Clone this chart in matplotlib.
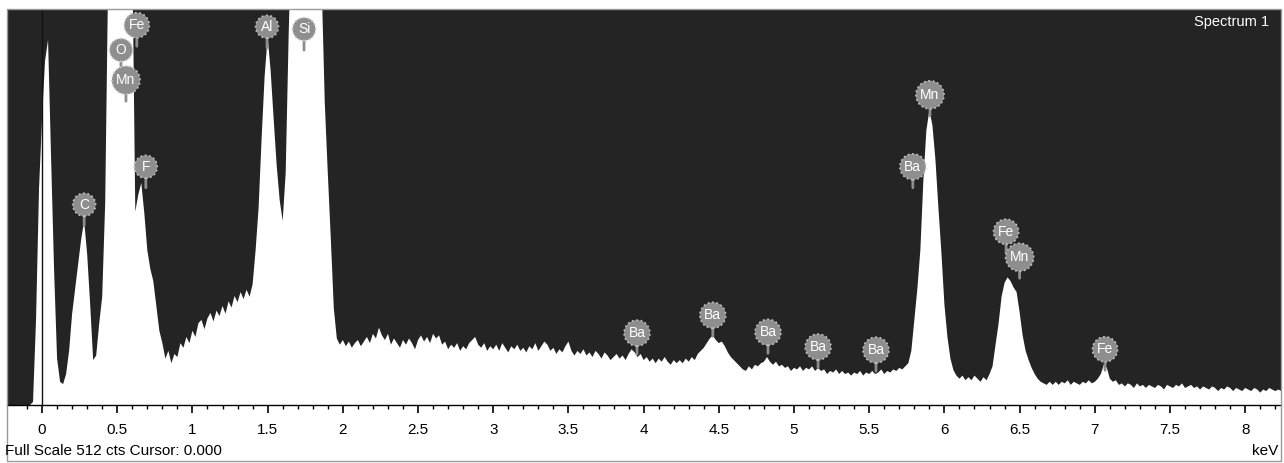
import numpy as np
import matplotlib
matplotlib.use("Agg")
import matplotlib.pyplot as plt
from matplotlib.patches import Rectangle

# EDS spectrum, read channel by channel from the picture
channel_start = -0.24   # keV of the first channel
channel_width = 0.02    # keV per channel
counts = [
    0, 0, 0, 0, 0, 0, 0, 0, 0, 4,                          # -0.24 .. -0.06
    110, 280, 370, 445, 472, 320, 175, 60, 30, 27,         # -0.04 .. 0.14
    40, 70, 118, 150, 182, 214, 238, 195, 130, 58,         # 0.16 .. 0.34
    64, 105, 140, 262, 560, 700, 760, 780, 760, 720,       # 0.36 .. 0.54
    680, 640, 590, 250, 272, 287, 248, 200, 176, 160,      # 0.56 .. 0.74
    128, 96, 80, 60, 70, 54, 66, 62, 80, 74,               # 0.76 .. 0.94
    88, 80, 96, 88, 106, 110, 98, 112, 119, 108,           # 0.96 .. 1.14
    122, 115, 128, 118, 134, 126, 141, 133, 146, 137,      # 1.16 .. 1.34
    149, 140, 156, 200, 255, 345, 425, 476, 432, 370,      # 1.36 .. 1.54
    310, 265, 238, 300, 480, 620, 720, 800, 850, 870,      # 1.56 .. 1.74
    860, 820, 760, 690, 610, 540, 390, 300, 215, 125,      # 1.76 .. 1.94
    86, 78, 84, 76, 82, 74, 80, 84, 76, 82,                # 1.96 .. 2.14
    88, 80, 92, 86, 100, 90, 84, 92, 78, 86,               # 2.16 .. 2.34
    80, 74, 84, 78, 86, 80, 72, 84, 90, 82,                # 2.36 .. 2.54
    88, 80, 92, 86, 90, 78, 82, 72, 78, 74,                # 2.56 .. 2.74
    80, 70, 76, 72, 80, 84, 88, 78, 74, 80,                # 2.76 .. 2.94
    70, 76, 72, 78, 70, 80, 74, 68, 76, 72,                # 2.96 .. 3.14
    78, 70, 74, 68, 76, 72, 80, 70, 76, 82,                # 3.16 .. 3.34
    78, 70, 74, 66, 72, 68, 76, 82, 70, 64,                # 3.36 .. 3.54
    70, 66, 72, 64, 68, 62, 70, 66, 60, 68,                # 3.56 .. 3.74
    64, 58, 62, 66, 60, 64, 58, 66, 72, 68,                # 3.76 .. 3.94
    62, 66, 58, 62, 56, 60, 54, 60, 56, 62,                # 3.96 .. 4.14
    56, 52, 58, 54, 58, 54, 60, 56, 62, 58,                # 4.16 .. 4.34
    66, 70, 74, 80, 86, 90, 84, 80, 82, 76,                # 4.36 .. 4.54
    68, 62, 58, 54, 50, 46, 44, 50, 46, 52,                # 4.56 .. 4.74
    50, 54, 56, 62, 56, 52, 56, 50, 52, 48,                # 4.76 .. 4.94
    50, 44, 48, 46, 50, 44, 48, 46, 50, 44,                # 4.96 .. 5.14
    48, 44, 46, 40, 44, 42, 46, 40, 44, 40,                # 5.16 .. 5.34
    42, 38, 42, 40, 44, 38, 42, 40, 44, 40,                # 5.36 .. 5.54
    42, 46, 40, 44, 42, 46, 44, 48, 46, 50,                # 5.56 .. 5.74
    54, 70, 110, 150, 200, 290, 355, 381, 362, 318,        # 5.76 .. 5.94
    255, 197, 130, 88, 60, 45, 38, 34, 38, 32,             # 5.96 .. 6.14
    36, 32, 38, 34, 30, 36, 32, 40, 50, 78,                # 6.16 .. 6.34
    105, 140, 158, 165, 160, 152, 146, 120, 90, 70,        # 6.36 .. 6.54
    58, 48, 40, 34, 30, 28, 26, 30, 26, 30,                # 6.56 .. 6.74
    26, 30, 28, 32, 26, 30, 28, 26, 30, 28,                # 6.76 .. 6.94
    32, 28, 30, 34, 40, 52, 48, 34, 30, 32,                # 6.96 .. 7.14
    26, 28, 24, 28, 26, 22, 28, 24, 26, 22,                # 7.16 .. 7.34
    26, 24, 22, 26, 24, 20, 26, 24, 22, 26,                # 7.36 .. 7.54
    24, 28, 22, 24, 26, 22, 24, 20, 24, 22,                # 7.56 .. 7.74
    20, 24, 22, 18, 22, 20, 24, 22, 18, 22,                # 7.76 .. 7.94
    20, 18, 22, 20, 18, 22, 20, 16, 20, 18,                # 7.96 .. 8.14
    22, 20, 18, 20, 18,                                    # 8.16 .. 8.24
]
energy = channel_start + channel_width * np.arange(len(counts))

# peak markers: element, keV, height (cts) of the badge
label_elements = ["Fe", "O", "Mn", "F", "C", "Al", "Si", "Mn", "Ba", "Fe", "Mn",
                  "Ba", "Ba", "Ba", "Ba", "Ba", "Fe"]
label_kev = [0.63, 0.525, 0.558, 0.69, 0.28, 1.496, 1.742, 5.904, 5.79, 6.41, 6.50,
             3.956, 4.46, 4.827, 5.16, 5.545, 7.068]
label_counts = [491, 459, 420, 308, 259, 489, 486, 401, 308, 224, 191,
                93, 116, 94, 75, 71, 72]

full_scale = 512
cursor_kev = 0.0

plt.rcParams['font.family'] = ['Liberation Sans', 'DejaVu Sans']

W, H = 1284, 463
fig = plt.figure(figsize=(W / 100, H / 100), dpi=100)
fig.patch.set_facecolor('white')

# outer frame around plot + scale strip
fig.patches.append(Rectangle((7 / W, 1 - 461 / H), (1281 - 7) / W, (461 - 9) / H,
                             transform=fig.transFigure, fill=False,
                             edgecolor='#9a9a9a', lw=1))

ax = fig.add_axes([7 / W, 1 - 405 / H, (1281 - 7) / W, (405 - 9) / H])
ax.set_facecolor('#242424')
ax.fill_between(energy, counts, 0, color='white', lw=0, zorder=2)
ax.axvline(cursor_kev, color='#111111', lw=1, zorder=3)

ax.set_xlim(-0.233, 8.238)
ax.set_ylim(0, full_scale)

for el, e, c in zip(label_elements, label_kev, label_counts):
    ax.annotate('', xy=(e, c), xytext=(0, -21), textcoords='offset pixels',
                arrowprops=dict(arrowstyle='-', color='#8e8e8e', lw=2,
                                shrinkA=0, shrinkB=0), zorder=4)
    ax.text(e, c, el, ha='center', va='center', color='white', fontsize=10,
            zorder=5,
            bbox=dict(boxstyle='circle,pad=0.32', fc='#8e8e8e', ec='#c4c4c4',
                      ls=':', lw=1.2))

ax.text(0.991, 0.968, 'Spectrum 1', transform=ax.transAxes, ha='right', va='center',
        color='white', fontsize=10.5)

for s in ['top', 'right', 'left']:
    ax.spines[s].set_visible(False)
ax.spines['bottom'].set_color('black')
ax.spines['bottom'].set_linewidth(1)
ax.set_yticks([])
ax.set_xticks(np.arange(0, 8.01, 0.5))
ax.set_xticks(np.arange(-0.1, 8.21, 0.1), minor=True)
ax.set_xticklabels(['0', '0.5', '1', '1.5', '2', '2.5', '3', '3.5', '4', '4.5',
                    '5', '5.5', '6', '6.5', '7', '7.5', '8'])
ax.tick_params(axis='x', which='major', length=6, width=1.2, color='black',
               labelsize=11, pad=7)
ax.tick_params(axis='x', which='minor', length=3, width=1, color='black')

fig.text(5 / W, 1 - 451 / H, 'Full Scale %d cts Cursor: %.3f' % (full_scale, cursor_kev),
         ha='left', va='center', fontsize=11)
fig.text(1278 / W, 1 - 451 / H, 'keV', ha='right', va='center', fontsize=11)

fig.savefig('out.png', dpi=100)
